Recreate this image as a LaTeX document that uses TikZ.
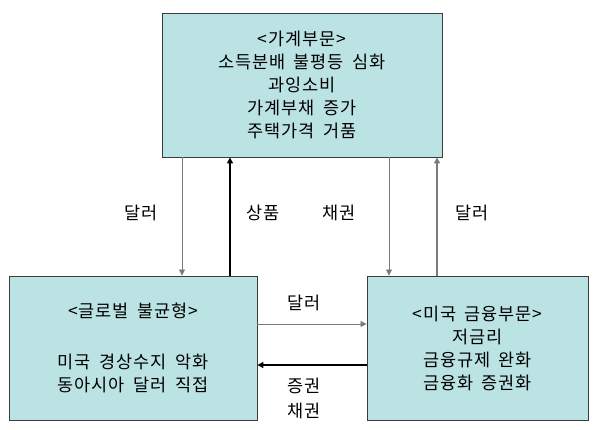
\documentclass[tikz,border=0pt]{standalone}
\usepackage{fontspec}
\setmainfont[LetterSpace=5,WordSpace=1.8]{Noto Sans CJK KR}
\usetikzlibrary{arrows.meta}
\definecolor{boxfill}{HTML}{BCE3E4}
\definecolor{boxline}{HTML}{3C3C3C}
\definecolor{thinarrow}{HTML}{7A7A7A}
\begin{document}
\begin{tikzpicture}[x=1pt,y=-1pt,
  box/.style={draw=boxline,line width=0.9pt,fill=boxfill,align=center,
    font=\fontsize{17.5}{23}\selectfont,inner sep=0pt},
  lbl/.style={font=\fontsize{17.5}{20}\selectfont,inner sep=0pt},
  tip/.style={-{Triangle[length=6pt,width=6pt]}},
  thin/.style={tip,draw=thinarrow,line width=0.8pt},
  thick/.style={tip,draw=black,line width=1.4pt},
  mid/.style={tip,draw=thinarrow,line width=1.3pt}]
\useasboundingbox (0,0) rectangle (597,430);
\fill[white] (0,0) rectangle (597,430);
\node[box,minimum width=280pt,minimum height=144pt] (top) at (302,85)
  {<가계부문>\\소득분배 불평등 심화\\과잉소비\\가계부채 증가\\주택가격 거품};
\node[box,minimum width=248pt,minimum height=144pt] (left) at (133,348)
  {<글로벌 불균형>\\[28pt]미국 경상수지 악화\\동아시아 달러 직접};
\node[box,minimum width=221pt,minimum height=144pt] (right) at (477.5,348)
  {<미국 금융부문>\\저금리\\금융규제 완화\\금융화 증권화};
\coordinate (c1) at (182,0);
\coordinate (c2) at (230,0);
\coordinate (c3) at (389,0);
\coordinate (c4) at (437,0);
\coordinate (r1) at (0,324);
\coordinate (r2) at (0,365);
\draw[thin] (top.south -| c1) -- (left.north -| c1);
\draw[thick] (left.north -| c2) -- (top.south -| c2);
\draw[thin] (top.south -| c3) -- (right.north -| c3);
\draw[mid] (right.north -| c4) -- (top.south -| c4);
\draw[thin] (left.east |- r1) -- (right.west |- r1);
\draw[thick] (right.west |- r2) -- (left.east |- r2);
\node[lbl] (l1) at (141,213) {달러};
\node[lbl] (l2) at (263,213) {상품};
\node[lbl] (l3) at (339,213) {채권};
\node[lbl] (l4) at (472,213) {달러};
\node[lbl] (l5) at (304,303) {달러};
\node[lbl] (l6) at (304,386) {증권};
\node[lbl] (l7) at (304,411) {채권};
\end{tikzpicture}
\end{document}
